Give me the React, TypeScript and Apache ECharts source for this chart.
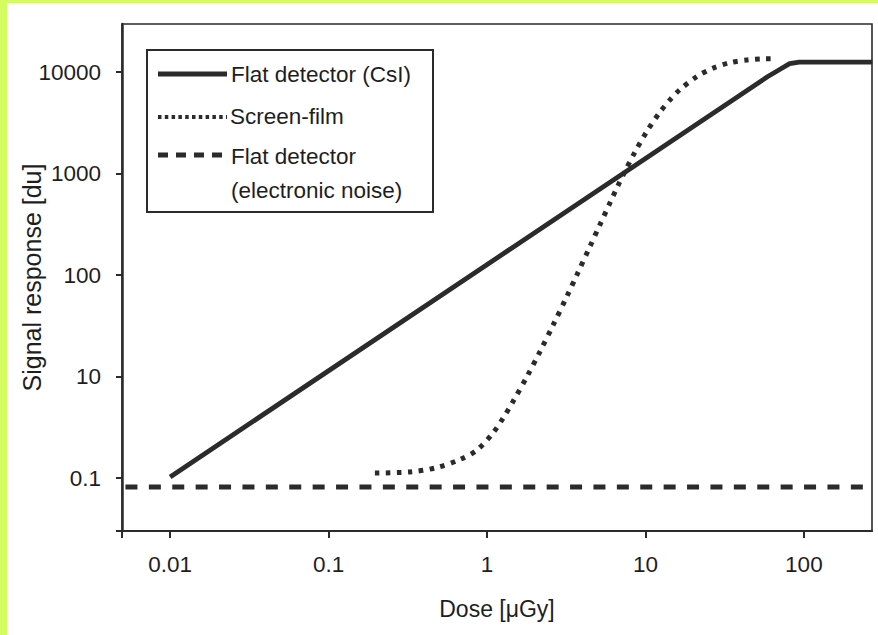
import React, { useEffect, useRef } from "react";
import * as echarts from "echarts";

// Tick labels (exponents are decade positions on the log axes)
const xTickExps = [-2, -1, 0, 1, 2];
const xTickLabels = ["0.01", "0.1", "1", "10", "100"];
const yTickExps = [0, 1, 2, 3, 4];
const yTickLabels = ["0.1", "10", "100", "1000", "10000"];

// Flat detector (CsI)
const csiDose = [0.01, 58.9, 70.8, 81.3, 93.3, 270];
const csiSignal = [1.03, 9020, 10700, 12160, 12590, 12590];

// Screen-film
const filmDose = [
  0.196, 0.327, 0.483, 0.676, 0.865, 1.091, 1.262, 1.459, 1.791, 2.163, 2.612,
  3.199, 3.698, 4.467, 5.164, 5.984, 6.714, 7.43, 8.59, 10.23, 12.36, 14.29,
  16.52, 21.18, 26.73, 34.2, 43.75, 56.9, 67.8,
];
const filmSignal = [
  1.125, 1.153, 1.274, 1.531, 1.897, 2.793, 3.899, 5.689, 10.09, 17.78, 32.21,
  62.23, 101.2, 192.3, 314.8, 520.0, 765.6, 1059, 1637, 2624, 4055, 5346, 6745,
  9099, 10965, 12417, 13213, 13552, 13552,
];

// Flat detector (electronic noise)
const noiseDose = [0.00497, 270];
const noiseSignal = [0.82, 0.82];

const X_MIN = -2.304;
const X_MAX = 2.43;
const Y_MIN = -0.52;
const Y_MAX = 4.475;

const FONT = '"Liberation Sans", Arial, Helvetica, sans-serif';
const INK = "#2b2b2b";
const TXT = "#1e1e1e";

const toLog = (xs: number[], ys: number[]) =>
  xs.map((x, i) => [Math.log10(x), Math.log10(ys[i])]);

const labelFor = (exps: number[], labels: string[]) => (v: number) => {
  const i = exps.findIndex((e) => Math.abs(e - v) < 1e-6);
  return i >= 0 ? labels[i] : "";
};

export default function App() {
  const ref = useRef<HTMLDivElement>(null);

  useEffect(() => {
    document.body.style.margin = "0";
    const chart = echarts.init(ref.current!, null, { renderer: "svg" });
    const option: any = {
      animation: false,
      backgroundColor: "#ffffff",
      grid: {
        left: 122,
        right: 6,
        top: 24,
        bottom: 104,
        containLabel: false,
        outerBoundsMode: "none",
        show: true,
        borderColor: INK,
        borderWidth: 1.6,
        backgroundColor: "transparent",
      },
      xAxis: {
        type: "value",
        min: X_MIN,
        max: X_MAX,
        name: "Dose [μGy]",
        nameLocation: "middle",
        nameGap: 66,
        nameMoveOverlap: false,
        nameTextStyle: { fontSize: 23, color: TXT, fontFamily: FONT },
        axisLine: { show: true, onZero: false, lineStyle: { color: INK, width: 2 } },
        axisTick: {
          show: true,
          inside: false,
          length: 7,
          customValues: [X_MIN, ...xTickExps],
          lineStyle: { color: INK, width: 2 },
        },
        axisLabel: {
          customValues: xTickExps,
          formatter: labelFor(xTickExps, xTickLabels),
          fontSize: 22.5,
          color: TXT,
          fontFamily: FONT,
          margin: 22,
        },
        splitLine: { show: false },
      },
      yAxis: {
        type: "value",
        min: Y_MIN,
        max: Y_MAX,
        name: "Signal response [du]",
        nameLocation: "middle",
        nameGap: 78,
        nameMoveOverlap: false,
        nameTextStyle: { fontSize: 25, color: TXT, fontFamily: FONT },
        axisLine: { show: true, onZero: false, lineStyle: { color: INK, width: 2.5 } },
        axisTick: {
          show: true,
          inside: false,
          length: 6,
          customValues: [Y_MIN, ...yTickExps],
          lineStyle: { color: INK, width: 2 },
        },
        axisLabel: {
          customValues: yTickExps,
          formatter: labelFor(yTickExps, yTickLabels),
          fontSize: 22.5,
          color: TXT,
          fontFamily: FONT,
          margin: 21,
        },
        splitLine: { show: false },
      },
      series: [
        {
          name: "Flat detector (CsI)",
          type: "line",
          data: toLog(csiDose, csiSignal),
          showSymbol: false,
          symbol: "none",
          lineStyle: { color: INK, width: 4.8, cap: "butt" },
          z: 3,
        },
        {
          name: "Screen-film",
          type: "line",
          data: toLog(filmDose, filmSignal),
          showSymbol: false,
          symbol: "none",
          smooth: 0.3,
          lineStyle: { color: INK, width: 5, type: [4.5, 6.5], cap: "butt" },
          z: 2,
        },
        {
          name: "Flat detector (electronic noise)",
          type: "line",
          data: toLog(noiseDose, noiseSignal),
          showSymbol: false,
          symbol: "none",
          lineStyle: { color: INK, width: 5, type: [12, 11.4], dashOffset: 20, cap: "butt" },
          z: 2,
        },
      ],
      graphic: [
        // yellow-green page edges
        { type: "rect", left: 0, top: 0, shape: { x: 0, y: 0, width: 878, height: 3 }, style: { fill: "#d4fc60" }, z: 100 },
        { type: "rect", left: 0, top: 0, shape: { x: 0, y: 0, width: 7, height: 635 }, style: { fill: "#d4fc60" }, z: 100 },
        // legend
        {
          type: "group",
          z: 50,
          children: [
            { type: "rect", shape: { x: 147, y: 50, width: 286, height: 162 }, style: { fill: "#ffffff", stroke: INK, lineWidth: 2 } },
            { type: "line", shape: { x1: 158, y1: 74, x2: 227, y2: 74 }, style: { stroke: INK, lineWidth: 5 } },
            { type: "line", shape: { x1: 158, y1: 117, x2: 227, y2: 117 }, style: { stroke: INK, lineWidth: 4, lineDash: [3.5, 3.3] } },
            { type: "line", shape: { x1: 158, y1: 155, x2: 227, y2: 155 }, style: { stroke: INK, lineWidth: 5, lineDash: [10, 8] } },
            { type: "text", style: { text: "Flat detector (CsI)", x: 231, y: 74, fontSize: 22.5, fontFamily: FONT, fill: TXT, verticalAlign: "middle" } },
            { type: "text", style: { text: "Screen-film", x: 230, y: 116, fontSize: 22.5, fontFamily: FONT, fill: TXT, verticalAlign: "middle" } },
            { type: "text", style: { text: "Flat detector", x: 231, y: 156, fontSize: 22.5, fontFamily: FONT, fill: TXT, verticalAlign: "middle" } },
            { type: "text", style: { text: "(electronic noise)", x: 231, y: 190, fontSize: 22.5, fontFamily: FONT, fill: TXT, verticalAlign: "middle" } },
          ],
        },
      ],
    };
    chart.setOption(option);
    return () => chart.dispose();
  }, []);

  return (
    <div
      ref={ref}
      style={{ position: "absolute", left: 0, top: 0, width: 878, height: 635 }}
    />
  );
}
